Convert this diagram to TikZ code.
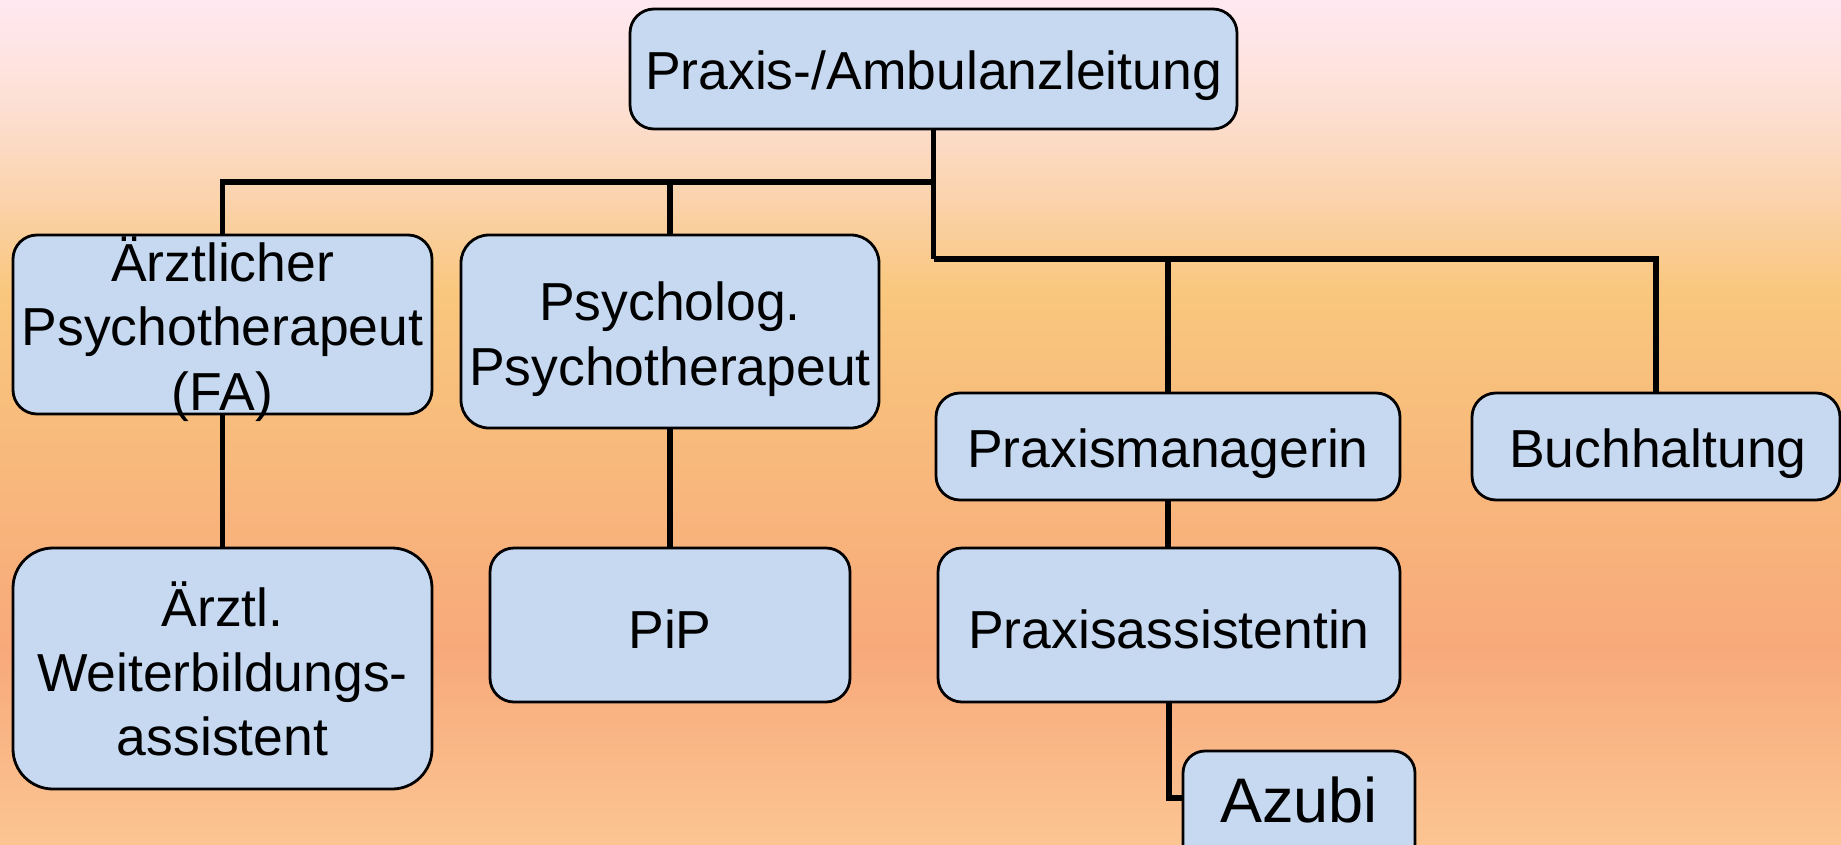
\documentclass[tikz,border=0pt]{standalone}
\usepackage{fontspec}
\setmainfont{Liberation Sans}
\definecolor{boxfill}{HTML}{C6D9F1}
\definecolor{bgA}{HTML}{FFE8F1}
\definecolor{bgB}{HTML}{FDE0D5}
\definecolor{bgC}{HTML}{FBD4B0}
\definecolor{bgD}{HTML}{F9C77E}
\definecolor{bgE}{HTML}{F8BE7C}
\definecolor{bgF}{HTML}{F8A97B}
\definecolor{bgG}{HTML}{FBC592}
\tikzset{
  orgbox/.style={draw=black, line width=2.8pt, fill=boxfill, rounded corners=24pt, inner sep=0pt},
  lbl/.style={align=center, inner sep=0pt, font=\fontsize{53.5pt}{64.6pt}\selectfont},
  conn/.style={draw=black, line width=5.5pt, line join=miter}
}
\begin{document}
\begin{tikzpicture}[x=1pt,y=-1pt]
\useasboundingbox (0,0) rectangle (1841,844);
% background
\shade[top color=bgA, bottom color=bgB] (0,0) rectangle (1841,100.5);
\shade[top color=bgB, bottom color=bgC] (0,100) rectangle (1841,190.5);
\shade[top color=bgC, bottom color=bgD] (0,190) rectangle (1841,290.5);
\shade[top color=bgD, bottom color=bgE] (0,290) rectangle (1841,400.5);
\shade[top color=bgE, bottom color=bgF] (0,400) rectangle (1841,650.5);
\shade[top color=bgF, bottom color=bgG] (0,650) rectangle (1841,844);

% junction points
\coordinate (j1) at (933.5,182);
\coordinate (j2) at (933.5,259);
\coordinate (azin) at (1183,798);

% boxes (shapes)
\node[orgbox, minimum width=607pt, minimum height=120pt] (top) at (933.5,69) {};
\node[orgbox, minimum width=419pt, minimum height=179pt] (fa) at (222.5,324.5) {};
\node[orgbox, minimum width=418pt, minimum height=193pt, rounded corners=28pt] (psy) at (670,331.5) {};
\node[orgbox, minimum width=464pt, minimum height=107pt] (pm) at (1168,446.5) {};
\node[orgbox, minimum width=368pt, minimum height=107pt] (bh) at (1656,446.5) {};
\node[orgbox, minimum width=419pt, minimum height=241pt, rounded corners=40pt] (wb) at (222.5,668.5) {};
\node[orgbox, minimum width=360pt, minimum height=154pt] (pip) at (670,625) {};
\node[orgbox, minimum width=462pt, minimum height=154pt] (pa) at (1169,625) {};
\node[orgbox, minimum width=232pt, minimum height=120pt, rounded corners=22pt] (az) at (1299,811) {};

% connectors
\draw[conn] (top.south) -- (j2);
\draw[conn] (fa.north) |- (j1);
\draw[conn] (psy.north) -- (psy.north |- j1);
\draw[conn] (bh.north) |- (j2);
\draw[conn] (pm.north) -- (pm.north |- j2);
\draw[conn] (fa.south) -- (wb.north);
\draw[conn] (psy.south) -- (pip.north);
\draw[conn] (pm.south) -- (pm.south |- pa.north);
\draw[conn] (pa.south) |- (azin);

% labels
\node[lbl] (top-t) at (933.5,76) {Praxis-/Ambulanzleitung};
\node[lbl] (fa-t) at (222.5,329) {Ärztlicher\\Psychotherapeut\\(FA)};
\node[lbl] (psy-t) at (670,339) {Psycholog.\\Psychotherapeut};
\node[lbl] (pm-t) at (1168,454) {Praxismanagerin};
\node[lbl] (bh-t) at (1658,454) {Buchhaltung};
\node[lbl] (wb-t) at (222.5,669) {Ärztl.\\Weiterbildungs-\\assistent};
\node[lbl] (pip-t) at (670,629) {PiP};
\node[lbl] (pa-t) at (1169,629) {Praxisassistentin};
\node[lbl, font=\fontsize{63pt}{70pt}\selectfont] (az-t) at (1299,800) {Azubi};
\end{tikzpicture}
\end{document}
